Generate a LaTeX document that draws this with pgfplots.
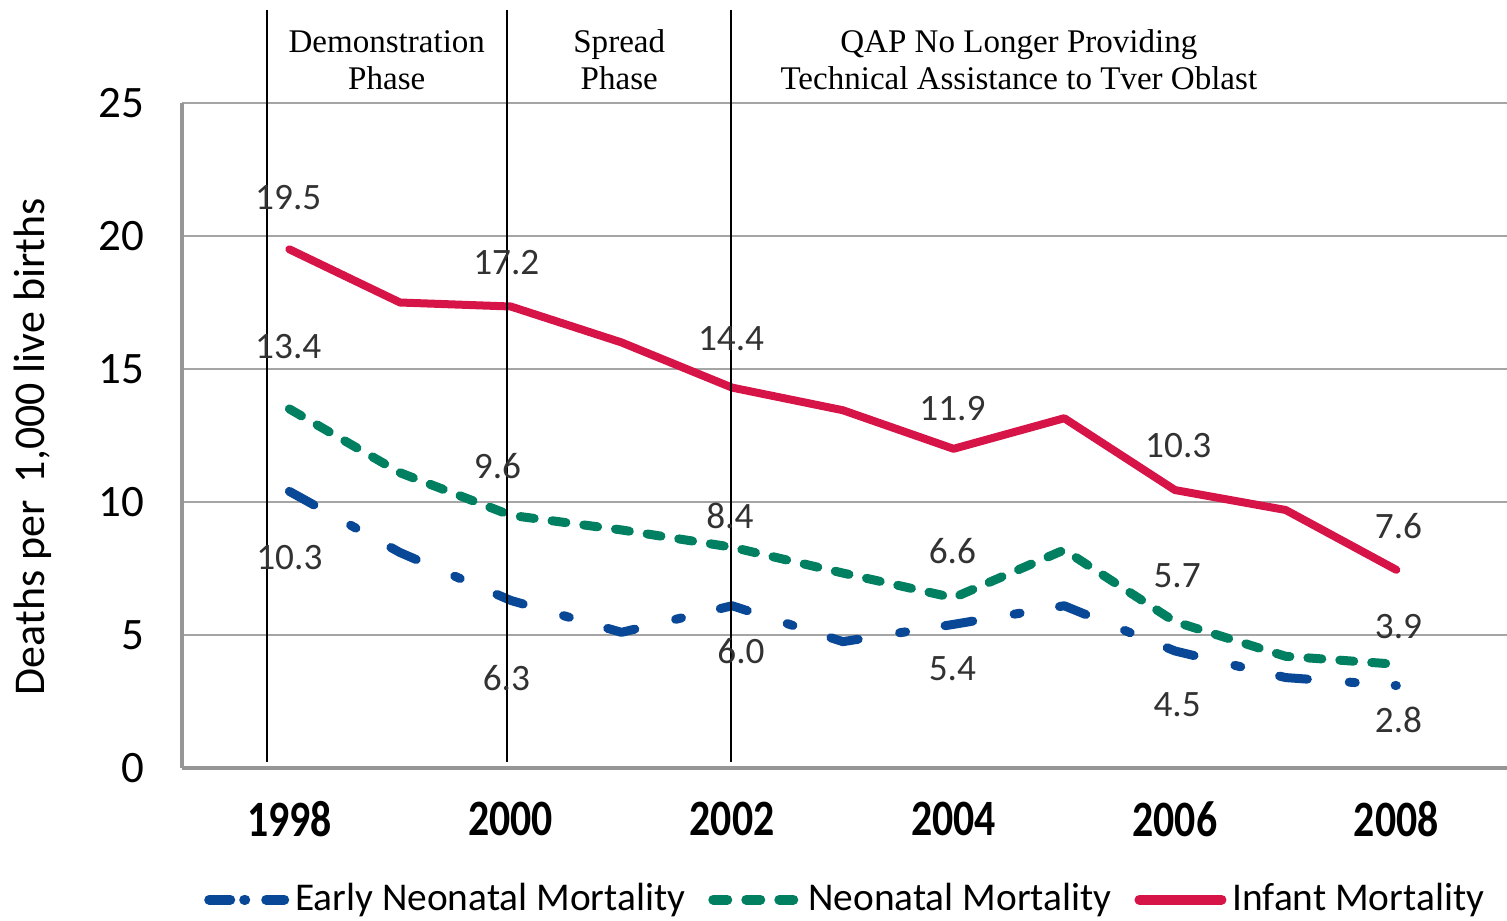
\documentclass[border=0pt]{standalone}
\usepackage{pgfplots}
\usepackage{pgfplotstable}
\pgfplotsset{compat=1.18}
\usepackage{fontspec}
\setmainfont{Carlito}
\newfontfamily\timesf{Liberation Serif}
\definecolor{imred}{RGB}{214,20,72}
\definecolor{nmgreen}{RGB}{0,128,96}
\definecolor{enblue}{RGB}{8,72,150}
\definecolor{gridgray}{RGB}{165,165,165}
\definecolor{axgray}{RGB}{150,150,150}
\definecolor{lblgray}{RGB}{50,50,50}

\pgfplotstableread{
year im nm en
1998 19.5 13.5 10.4
1999 17.5 11.1 8.1
2000 17.35 9.5 6.3
2001 16.0 8.95 5.1
2002 14.3 8.3 6.1
2003 13.45 7.33 4.75
2004 12.0 6.4 5.4
2005 13.15 8.2 6.1
2006 10.45 5.5 4.4
2007 9.7 4.2 3.4
2008 7.45 3.9 3.1
}\mort

\begin{document}
\begin{tikzpicture}
\useasboundingbox (-1.82cm,-1.52cm) rectangle (13.25cm,7.68cm);
\begin{axis}[
  scale only axis,
  width=13.25cm, height=6.65cm,
  xmin=1997.03, xmax=2009,
  ymin=0, ymax=25,
  clip=false,
  axis x line*=bottom, axis y line*=left,
  axis line style={-, axgray, line width=1.1pt},
  x axis line style={line width=1.3pt},
  xtick={1998,2000,2002,2004,2006,2008},
  ytick={0,5,10,15,20,25},
  major tick length=0pt,
  ymajorgrids,
  grid style={gridgray, line width=0.6pt},
  xticklabel style={inner sep=0pt, anchor=north, yshift=-0.33cm, font=\bfseries\fontsize{14.5}{16}\selectfont},
  xticklabel={\scalebox{0.82}[1]{\pgfmathprintnumber[1000 sep={}]{\tick}}},
  yticklabel style={inner sep=0pt, anchor=east, xshift=-0.37cm, font=\fontsize{12.8}{14}\selectfont},
  /pgf/number format/assume math mode=true,
  ylabel={Deaths per \,1,000 live births},
  ylabel style={at={(axis description cs:-0.1125,0.483)}, anchor=center, font=\fontsize{12.5}{14}\selectfont},
  legend columns=3,
  legend style={draw=none, at={(axis description cs:0.502,-0.198)}, anchor=center,
    font=\fontsize{11.2}{13}\selectfont, inner sep=0pt,
    /tikz/every even column/.append style={column sep=0.17cm},
    nodes={inner sep=0.06cm}},
  legend cell align=left,
]
\addplot[enblue, line width=0.09cm, line cap=round, line join=round,
  dash pattern=on 0.28cm off 0.42cm on 0.06cm off 0.40cm,
  legend image code/.code={
    \draw[enblue, line width=0.1cm, line cap=round] (0.05cm,0cm)--(0.26cm,0cm) (0.40cm,0cm)--(0.41cm,0cm) (0.62cm,0cm)--(0.80cm,0cm);}]
  table[x=year, y=en] {\mort};
\addlegendentry{Early Neonatal Mortality}
\addplot[nmgreen, line width=0.09cm, line cap=round, line join=round,
  dash pattern=on 0.14cm off 0.18cm,
  legend image code/.code={
    \draw[nmgreen, line width=0.1cm, line cap=round] (0.05cm,0cm)--(0.23cm,0cm) (0.38cm,0cm)--(0.56cm,0cm) (0.71cm,0cm)--(0.89cm,0cm);}]
  table[x=year, y=nm] {\mort};
\addlegendentry{Neonatal Mortality}
\addplot[imred, line width=0.08cm, line cap=round, line join=round,
  legend image code/.code={
    \draw[imred, line width=0.1cm, line cap=round] (0.05cm,0cm)--(0.87cm,0cm);}]
  table[x=year, y=im] {\mort};
\addlegendentry{Infant Mortality}

% phase separators
\draw[black, line width=0.6pt] (axis cs:1997.80,0.23) -- (axis cs:1997.80,28.5);
\draw[black, line width=0.6pt] (axis cs:1999.97,0.23) -- (axis cs:1999.97,28.5);
\draw[black, line width=0.6pt] (axis cs:2001.99,0.23) -- (axis cs:2001.99,28.5);

% phase titles
\begin{scope}[every node/.style={align=center, font=\timesf\fontsize{9.4}{10.6}\selectfont, inner sep=0pt}]
\node at (axis cs:1998.88,26.62) {Demonstration\\Phase};
\node at (axis cs:2000.98,26.62) {Spread\\Phase};
\node at (axis cs:2004.59,26.62) {QAP No Longer Providing\\Technical Assistance to Tver Oblast};
\end{scope}

% data labels
\begin{scope}[every node/.style={font=\fontsize{10.6}{12}\selectfont, text=lblgray, inner sep=0pt}]
\node at (axis cs:1997.99,21.43) {19.5};
\node at (axis cs:1999.96,19.02) {17.2};
\node at (axis cs:2001.99,16.13) {14.4};
\node at (axis cs:2003.99,13.50) {11.9};
\node at (axis cs:2006.03,12.14) {10.3};
\node at (axis cs:2008.02,9.10) {7.6};
\node at (axis cs:1997.99,15.86) {13.4};
\node at (axis cs:1999.88,11.35) {9.6};
\node at (axis cs:2001.98,9.47) {8.4};
\node at (axis cs:2003.99,8.16) {6.6};
\node at (axis cs:2006.02,7.22) {5.7};
\node at (axis cs:2008.02,5.30) {3.9};
\node at (axis cs:1998.00,7.90) {10.3};
\node at (axis cs:1999.96,3.38) {6.3};
\node at (axis cs:2002.08,4.40) {6.0};
\node at (axis cs:2003.99,3.72) {5.4};
\node at (axis cs:2006.02,2.37) {4.5};
\node at (axis cs:2008.02,1.80) {2.8};
\end{scope}
\end{axis}
\end{tikzpicture}
\end{document}
